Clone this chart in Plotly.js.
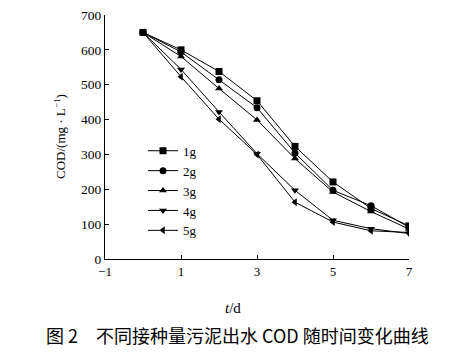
<!DOCTYPE html>
<html><head><meta charset="utf-8">
<script src="https://cdn.plot.ly/plotly-3.0.1.min.js"></script>
<style>body{margin:0;background:#fff}#c{width:449px;height:358px}</style>
</head><body><div id="c"></div>
<script>
const days = [0,1,2,3,4,5,6,7];
const s1g = [650,600,538,454,323,221,145,95];
const s2g = [650,594,514,434,304,197,153,91];
const s3g = [650,581,489,399,288,192,136,86];
const s4g = [650,544,422,302,197,111,87,73];
const s5g = [650,523,401,300,163,106,81,76];
const names = ['1g','2g','3g','4g','5g'];
const symbols = ['square','circle','triangle-up','triangle-down','triangle-left'];
const xTicks = [-1,1,3,5,7];
const yTicks = [0,100,200,300,400,500,600,700];
const series = [s1g,s2g,s3g,s4g,s5g];

const traces = series.map((s,i)=>({
  x: days, y: s, name: names[i], type:'scatter', mode:'lines+markers',
  line:{color:'#000',width:1},
  marker:{symbol:symbols[i],size:7,color:'#000'}
}));

const serif = 'Liberation Serif, Times New Roman, serif';
const layout = {
  width:449, height:358,
  margin:{l:105,r:40,t:15,b:99},
  paper_bgcolor:'#fff', plot_bgcolor:'#fff',
  showlegend:true,
  legend:{x:0.125,y:0.505,xanchor:'left',yanchor:'top',bgcolor:'rgba(0,0,0,0)',
    font:{family:serif,size:13,color:'#000'},itemwidth:30,tracegroupgap:0},
  xaxis:{range:[-1,7],tickvals:xTicks,ticktext:xTicks.map(v=>v<0?'\u2212'+Math.abs(v):String(v)),
    showline:true,linecolor:'#000',linewidth:1,ticks:'inside',ticklen:4,tickcolor:'#000',
    showgrid:false,zeroline:false,tickfont:{family:serif,size:13,color:'#000'}},
  yaxis:{range:[0,700],tickvals:yTicks,
    showline:true,linecolor:'#000',linewidth:1,ticks:'inside',ticklen:4,tickcolor:'#000',
    showgrid:false,zeroline:false,tickfont:{family:serif,size:13.5,color:'#000'}},
  annotations:[
    {xref:'paper',yref:'paper',x:0.42,y:-0.2,yanchor:'middle',xanchor:'center',showarrow:false,
     text:'<i>t</i>/d',font:{family:serif,size:15,color:'#000'}},
    {xref:'paper',yref:'paper',x:-0.148,xanchor:'center',y:0.5,yanchor:'middle',showarrow:false,textangle:-90,
     text:'COD/(mg · L<sup>−1</sup>)',font:{family:serif,size:13,color:'#000'}},
    {xref:'paper',yref:'paper',x:-0.2,xanchor:'left',y:-0.31,yanchor:'middle',showarrow:false,
     text:'图 2',
     font:{family:'Noto Sans CJK SC, sans-serif',size:18,color:'#000'}},
    {xref:'paper',yref:'paper',x:-0.035,xanchor:'left',y:-0.31,yanchor:'middle',showarrow:false,
     text:'不同接种量污泥出水 COD 随时间变化曲线',
     font:{family:'Noto Sans CJK SC, sans-serif',size:18,color:'#000'}}
  ]
};
Plotly.newPlot('c',traces,layout,{displayModeBar:false,staticPlot:true});
</script></body></html>
